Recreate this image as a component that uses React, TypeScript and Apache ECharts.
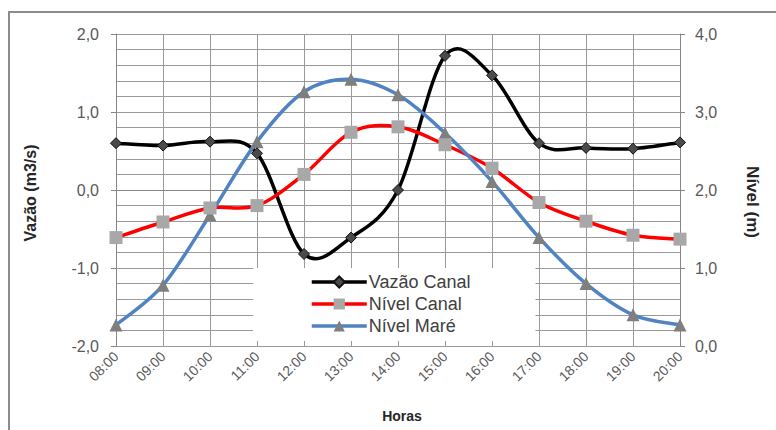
import React, { useEffect, useRef } from "react";
import * as echarts from "echarts";

const hours = ["08:00", "09:00", "10:00", "11:00", "12:00", "13:00", "14:00", "15:00", "16:00", "17:00", "18:00", "19:00", "20:00"];
const vazaoCanal = [0.6, 0.57, 0.62, 0.47, -0.82, -0.61, 0.0, 1.72, 1.47, 0.6, 0.54, 0.53, 0.61];
const nivelCanal = [1.39, 1.59, 1.77, 1.8, 2.2, 2.74, 2.81, 2.58, 2.28, 1.84, 1.6, 1.42, 1.37];
const nivelMare = [0.27, 0.78, 1.68, 2.62, 3.26, 3.42, 3.22, 2.73, 2.11, 1.39, 0.8, 0.4, 0.27];
const seriesNames = ["Vazão Canal", "Nível Canal", "Nível Maré"];
const leftTitle = "Vazão (m3/s)";
const rightTitle = "Nível (m)";
const xTitle = "Horas";

const FONT = "'Liberation Sans', Arial, sans-serif";
const GRID = "#999999";
const LW = 3.5;
const COLORS = ["#000000", "#ff0000", "#4f83c2"];
const fmt = (v: number) => v.toFixed(1).replace(".", ",");

// Excel-like smoothed curve (Catmull-Rom -> Bezier), positioned through the chart's own axes
function curveSeries(values: number[], yAxisIndex: number, color: string, key: string) {
  return {
    name: key,
    type: "custom",
    yAxisIndex,
    data: values.map((v, i) => [i, v]),
    silent: true,
    clip: false,
    z: 1,
    renderItem: (params: any, api: any) => {
      if (params.dataIndex !== 0) return null;
      const pts = values.map((v, i) => api.coord([i, v]));
      const n = pts.length;
      let d = `M${pts[0][0]},${pts[0][1]}`;
      for (let i = 0; i < n - 1; i++) {
        const p0 = pts[Math.max(i - 1, 0)];
        const p1 = pts[i];
        const p2 = pts[i + 1];
        const p3 = pts[Math.min(i + 2, n - 1)];
        const c1x = p1[0] + (p2[0] - p0[0]) / 6;
        const c1y = p1[1] + (p2[1] - p0[1]) / 6;
        const c2x = p2[0] - (p3[0] - p1[0]) / 6;
        const c2y = p2[1] - (p3[1] - p1[1]) / 6;
        d += ` C${c1x},${c1y} ${c2x},${c2y} ${p2[0]},${p2[1]}`;
      }
      return {
        type: "path",
        shape: { pathData: d },
        style: { fill: "none", stroke: color, lineWidth: LW, lineCap: "round", lineJoin: "round" },
      };
    },
  };
}

export default function App() {
  const ref = useRef<HTMLDivElement>(null);
  useEffect(() => {
    if (!ref.current) return;
    const chart = echarts.init(ref.current, null, { renderer: "svg" });
    chart.setOption({
      animation: false,
      backgroundColor: "#ffffff",
      textStyle: { fontFamily: FONT },
      grid: { left: 116, right: 96, top: 34, bottom: 84, containLabel: false },
      legend: {
        orient: "vertical",
        left: 253,
        top: 268,
        data: seriesNames.map((name, i) => ({
          name,
          lineStyle: { color: COLORS[i], width: LW, opacity: 1 },
        })),
        lineStyle: { opacity: 1 },
        backgroundColor: "#ffffff",
        padding: [5, 65, 6, 57],
        itemWidth: 55,
        itemHeight: 14,
        itemGap: 4,
        textStyle: { fontSize: 18, lineHeight: 18, color: "#404040", fontFamily: FONT, padding: [0, 0, 0, -3] },
        z: 3,
      },
      xAxis: {
        type: "category",
        data: hours,
        boundaryGap: false,
        axisLine: { show: true, lineStyle: { color: "#868686", width: 1 } },
        axisTick: { show: false },
        axisLabel: { rotate: 45, fontSize: 14, color: "#595959", margin: 8, interval: 0, fontFamily: FONT },
        splitLine: { show: true, interval: 0, lineStyle: { color: GRID, width: 1 } },
      },
      yAxis: [
        {
          type: "value",
          min: -2,
          max: 2,
          interval: 1,
          axisLine: { show: true, lineStyle: { color: "#868686" } },
          axisTick: { show: true, length: 5, lineStyle: { color: "#868686" } },
          axisLabel: { fontSize: 16, color: "#595959", margin: 17, formatter: fmt, fontFamily: FONT },
          splitLine: { show: true, lineStyle: { color: GRID, width: 1 } },
          minorTick: { show: false, splitNumber: 5 },
          minorSplitLine: { show: true, lineStyle: { color: GRID, width: 1 } },
        },
        {
          type: "value",
          min: 0,
          max: 4,
          interval: 1,
          position: "right",
          axisLine: { show: true, lineStyle: { color: "#868686" } },
          axisTick: { show: true, length: 5, lineStyle: { color: "#868686" } },
          axisLabel: { fontSize: 16, color: "#595959", margin: 15, formatter: fmt, fontFamily: FONT },
          splitLine: { show: false },
        },
      ],
      series: [
        curveSeries(vazaoCanal, 0, COLORS[0], "_c0"),
        curveSeries(nivelCanal, 1, COLORS[1], "_c1"),
        curveSeries(nivelMare, 1, COLORS[2], "_c2"),
        {
          name: seriesNames[0],
          type: "line",
          data: vazaoCanal,
          yAxisIndex: 0,
          symbol: "diamond",
          symbolSize: 11,
          lineStyle: { color: COLORS[0], width: LW, opacity: 0 },
          itemStyle: { color: "#4a4a4a", borderColor: "#111111", borderWidth: 1 },
          z: 4,
        },
        {
          name: seriesNames[1],
          type: "line",
          data: nivelCanal,
          yAxisIndex: 1,
          symbol: "rect",
          symbolSize: 13,
          lineStyle: { color: COLORS[1], width: LW, opacity: 0 },
          itemStyle: { color: "#a8a8a8", borderColor: "#a8a8a8", borderWidth: 0 },
          z: 3,
        },
        {
          name: seriesNames[2],
          type: "line",
          data: nivelMare,
          yAxisIndex: 1,
          symbol: "triangle",
          symbolSize: 13,
          lineStyle: { color: COLORS[2], width: LW, opacity: 0 },
          itemStyle: { color: "#7f7f7f", borderColor: "#7f7f7f", borderWidth: 0 },
          z: 2,
        },
      ],
      graphic: [
        {
          type: "rect",
          shape: { x: 9, y: 12, width: 800, height: 460 },
          style: { fill: "none", stroke: "#8c8c8c", lineWidth: 2 },
          silent: true,
          z: 10,
        },
        {
          type: "text",
          x: 30,
          y: 193,
          rotation: Math.PI / 2,
          style: { text: leftTitle, fill: "#262626", font: `bold 16px ${FONT}`, align: "center", verticalAlign: "middle" },
        },
        {
          type: "text",
          x: 752,
          y: 202,
          rotation: -Math.PI / 2,
          style: { text: rightTitle, fill: "#262626", font: `bold 17px ${FONT}`, align: "center", verticalAlign: "middle" },
        },
        {
          type: "text",
          x: 402,
          y: 416,
          style: { text: xTitle, fill: "#262626", font: `bold 14px ${FONT}`, align: "center", verticalAlign: "middle" },
        },
      ],
    });
    return () => chart.dispose();
  }, []);
  return <div ref={ref} style={{ position: "fixed", left: 0, top: 0, width: 776, height: 430 }} />;
}
